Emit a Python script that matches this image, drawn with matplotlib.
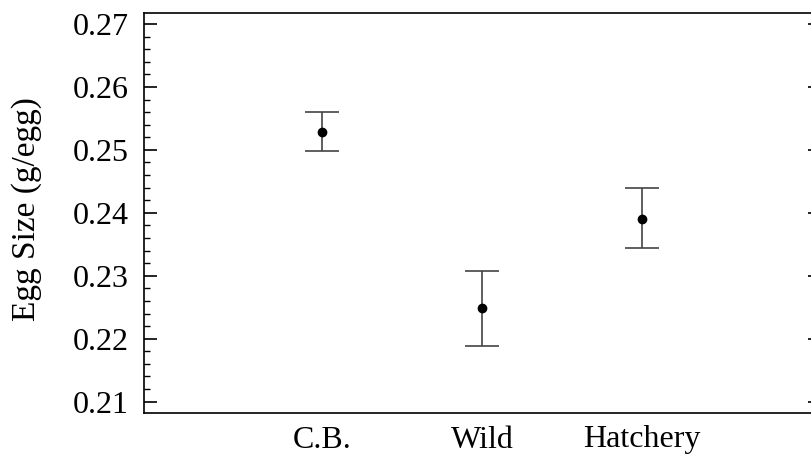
import matplotlib
matplotlib.use("Agg")
import matplotlib.pyplot as plt
from matplotlib.ticker import MultipleLocator

categories = ["C.B.", "Wild", "Hatchery"]
means = [0.2528, 0.2249, 0.2391]
upper = [0.2560, 0.2308, 0.2440]
lower = [0.2498, 0.2189, 0.2344]
yticks = [0.21, 0.22, 0.23, 0.24, 0.25, 0.26, 0.27]

plt.rcParams['font.family'] = ['Liberation Serif', 'DejaVu Serif']

fig = plt.figure(figsize=(8.12, 4.58), dpi=100)
ax = fig.add_axes([144/812, 1 - 413/458, (820 - 144)/812, 400/458])

x = list(range(1, len(categories) + 1))
yerr = [[m - l for m, l in zip(means, lower)], [u - m for u, m in zip(upper, means)]]
ax.errorbar(x, means, yerr=yerr, fmt='o', color='black', ecolor='#444444',
            elinewidth=1.2, capsize=12, capthick=1.2, markersize=6)

ax.set_xlim(-0.117, 4.117)
ax.set_ylim(0.2082, 0.27175)
ax.set_yticks(yticks)
ax.set_yticklabels([f"{v:.2f}" for v in yticks])
ax.yaxis.set_minor_locator(MultipleLocator(0.002))
ax.set_xticks(x)
ax.set_xticklabels(categories)

for s in ax.spines.values():
    s.set_linewidth(1.2)

ax.tick_params(axis='y', which='major', direction='in', length=9, width=1.2,
               labelsize=23, pad=11, right=True)
ax.tick_params(axis='y', which='minor', direction='in', length=4.5, width=1.0,
               left=True, right=False)
ax.tick_params(axis='x', which='both', length=0, labelsize=23, pad=9)

ax.set_ylabel("Egg Size (g/egg)", fontsize=24)
ax.yaxis.set_label_coords(-0.151, 0.51)

fig.savefig("out.png", dpi=100)
